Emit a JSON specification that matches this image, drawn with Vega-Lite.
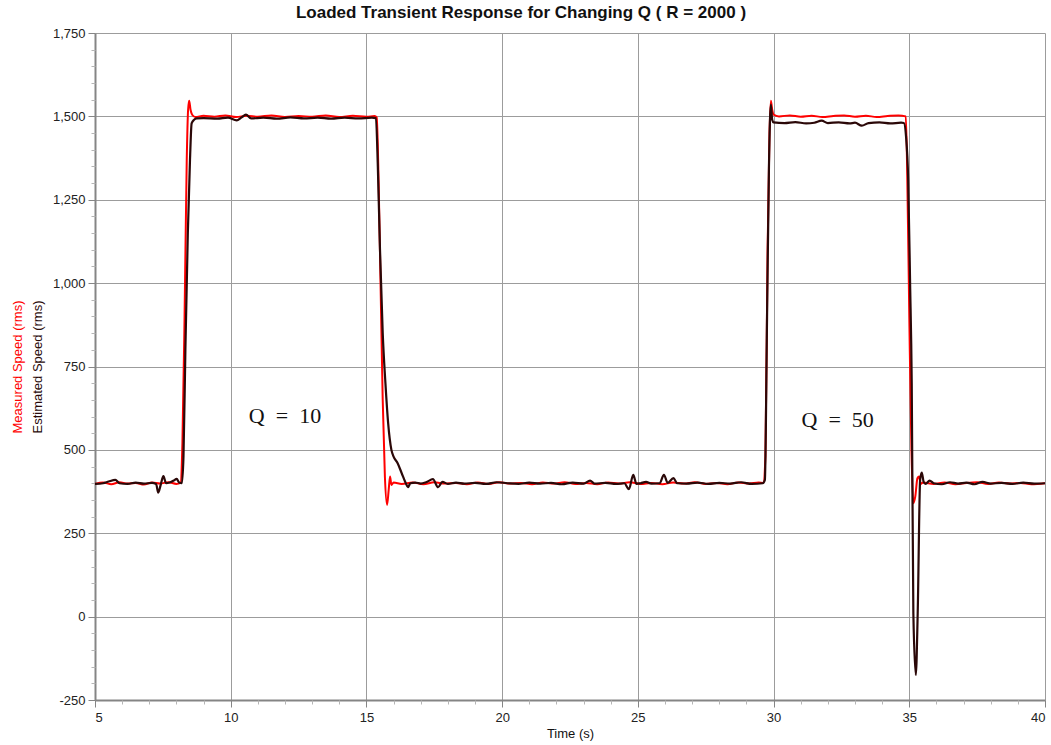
{
  "$schema": "https://vega.github.io/schema/vega-lite/v6.json",
  "width": 950,
  "height": 667,
  "autosize": {"type": "none"},
  "padding": {"left": 95, "top": 33, "right": 6, "bottom": 45},
  "background": "white",
  "config": {
    "view": {"stroke": null},
    "font": "Liberation Sans",
    "axis": {"labelFont": "Liberation Sans", "titleFont": "Liberation Sans", "titleFontWeight": "normal"}
  },
  "title": {
    "text": "Loaded Transient Response for Changing Q ( R = 2000 )",
    "font": "Liberation Sans",
    "fontSize": 17,
    "fontWeight": "bold",
    "color": "#111111",
    "anchor": "middle",
    "frame": "group",
    "dx": -49,
    "offset": 5
  },
  "datasets": {
    "measured": [
      {"t": 5.0, "v": 398}, {"t": 5.3, "v": 402}, {"t": 5.6, "v": 397}, {"t": 5.9, "v": 403},
      {"t": 6.2, "v": 399}, {"t": 6.5, "v": 401}, {"t": 6.8, "v": 396}, {"t": 7.1, "v": 402},
      {"t": 7.4, "v": 399}, {"t": 7.7, "v": 403}, {"t": 8.0, "v": 398}, {"t": 8.15, "v": 401},
      {"t": 8.22, "v": 520}, {"t": 8.3, "v": 900}, {"t": 8.38, "v": 1370}, {"t": 8.43, "v": 1520},
      {"t": 8.47, "v": 1547}, {"t": 8.52, "v": 1520}, {"t": 8.58, "v": 1505}, {"t": 8.7, "v": 1498},
      {"t": 9.0, "v": 1502}, {"t": 9.4, "v": 1499}, {"t": 9.8, "v": 1503}, {"t": 10.2, "v": 1498},
      {"t": 10.6, "v": 1502}, {"t": 11.0, "v": 1499}, {"t": 11.5, "v": 1503}, {"t": 12.0, "v": 1498},
      {"t": 12.5, "v": 1501}, {"t": 13.0, "v": 1499}, {"t": 13.5, "v": 1503}, {"t": 14.0, "v": 1498},
      {"t": 14.5, "v": 1502}, {"t": 15.0, "v": 1499}, {"t": 15.3, "v": 1501}, {"t": 15.38, "v": 1497},
      {"t": 15.45, "v": 1300}, {"t": 15.52, "v": 1000}, {"t": 15.6, "v": 650}, {"t": 15.68, "v": 420},
      {"t": 15.76, "v": 335}, {"t": 15.82, "v": 380}, {"t": 15.87, "v": 420}, {"t": 15.92, "v": 395},
      {"t": 16.0, "v": 402}, {"t": 16.3, "v": 398}, {"t": 16.7, "v": 402}, {"t": 17.1, "v": 397},
      {"t": 17.5, "v": 403}, {"t": 17.9, "v": 399}, {"t": 18.3, "v": 401}, {"t": 18.7, "v": 397},
      {"t": 19.1, "v": 402}, {"t": 19.5, "v": 398}, {"t": 19.9, "v": 403}, {"t": 20.3, "v": 399},
      {"t": 20.7, "v": 401}, {"t": 21.1, "v": 397}, {"t": 21.5, "v": 402}, {"t": 21.9, "v": 399},
      {"t": 22.3, "v": 403}, {"t": 22.7, "v": 398}, {"t": 23.1, "v": 401}, {"t": 23.5, "v": 397},
      {"t": 23.9, "v": 402}, {"t": 24.3, "v": 399}, {"t": 24.7, "v": 403}, {"t": 25.1, "v": 398},
      {"t": 25.5, "v": 401}, {"t": 25.9, "v": 397}, {"t": 26.3, "v": 402}, {"t": 26.7, "v": 399},
      {"t": 27.1, "v": 403}, {"t": 27.5, "v": 398}, {"t": 27.9, "v": 401}, {"t": 28.3, "v": 397},
      {"t": 28.7, "v": 402}, {"t": 29.1, "v": 399}, {"t": 29.45, "v": 402}, {"t": 29.62, "v": 401},
      {"t": 29.7, "v": 480}, {"t": 29.78, "v": 1100}, {"t": 29.85, "v": 1450}, {"t": 29.9, "v": 1547},
      {"t": 29.95, "v": 1520}, {"t": 30.0, "v": 1505}, {"t": 30.2, "v": 1500}, {"t": 30.6, "v": 1503},
      {"t": 31.0, "v": 1499}, {"t": 31.4, "v": 1502}, {"t": 31.8, "v": 1498}, {"t": 32.2, "v": 1501},
      {"t": 32.6, "v": 1503}, {"t": 33.0, "v": 1499}, {"t": 33.4, "v": 1502}, {"t": 33.8, "v": 1498},
      {"t": 34.2, "v": 1501}, {"t": 34.6, "v": 1503}, {"t": 34.87, "v": 1500}, {"t": 34.92, "v": 1350},
      {"t": 35.0, "v": 900}, {"t": 35.08, "v": 500}, {"t": 35.15, "v": 340}, {"t": 35.22, "v": 360},
      {"t": 35.3, "v": 415}, {"t": 35.36, "v": 420}, {"t": 35.42, "v": 398}, {"t": 35.5, "v": 402},
      {"t": 35.9, "v": 398}, {"t": 36.3, "v": 402}, {"t": 36.7, "v": 397}, {"t": 37.1, "v": 401},
      {"t": 37.5, "v": 403}, {"t": 37.9, "v": 398}, {"t": 38.3, "v": 402}, {"t": 38.7, "v": 399},
      {"t": 39.1, "v": 401}, {"t": 39.5, "v": 397}, {"t": 40.0, "v": 400}
    ],
    "estimated": [
      {"t": 5.0, "v": 398}, {"t": 5.3, "v": 400}, {"t": 5.5, "v": 405}, {"t": 5.75, "v": 410},
      {"t": 5.9, "v": 400}, {"t": 6.2, "v": 398}, {"t": 6.5, "v": 402}, {"t": 6.8, "v": 399},
      {"t": 7.1, "v": 401}, {"t": 7.25, "v": 398}, {"t": 7.33, "v": 372}, {"t": 7.42, "v": 395},
      {"t": 7.52, "v": 421}, {"t": 7.62, "v": 400}, {"t": 7.75, "v": 402}, {"t": 7.9, "v": 408},
      {"t": 8.01, "v": 413}, {"t": 8.1, "v": 402}, {"t": 8.2, "v": 400}, {"t": 8.26, "v": 480},
      {"t": 8.33, "v": 800}, {"t": 8.42, "v": 1150}, {"t": 8.5, "v": 1370}, {"t": 8.56, "v": 1479},
      {"t": 8.65, "v": 1490}, {"t": 8.75, "v": 1494}, {"t": 9.0, "v": 1495}, {"t": 9.5, "v": 1493},
      {"t": 9.9, "v": 1496}, {"t": 10.22, "v": 1488}, {"t": 10.4, "v": 1497}, {"t": 10.56, "v": 1505},
      {"t": 10.75, "v": 1494}, {"t": 11.2, "v": 1496}, {"t": 11.7, "v": 1493}, {"t": 12.2, "v": 1497},
      {"t": 12.7, "v": 1494}, {"t": 13.2, "v": 1496}, {"t": 13.7, "v": 1493}, {"t": 14.2, "v": 1496},
      {"t": 14.7, "v": 1494}, {"t": 15.2, "v": 1496}, {"t": 15.35, "v": 1495}, {"t": 15.42, "v": 1350},
      {"t": 15.5, "v": 1100}, {"t": 15.6, "v": 850}, {"t": 15.7, "v": 700}, {"t": 15.8, "v": 580},
      {"t": 15.92, "v": 500}, {"t": 16.0, "v": 480}, {"t": 16.15, "v": 460}, {"t": 16.3, "v": 430},
      {"t": 16.45, "v": 400}, {"t": 16.53, "v": 388}, {"t": 16.62, "v": 400}, {"t": 16.8, "v": 402},
      {"t": 17.0, "v": 399}, {"t": 17.2, "v": 403}, {"t": 17.45, "v": 412}, {"t": 17.64, "v": 388},
      {"t": 17.8, "v": 404}, {"t": 18.0, "v": 398}, {"t": 18.3, "v": 402}, {"t": 18.6, "v": 399},
      {"t": 19.0, "v": 401}, {"t": 19.4, "v": 398}, {"t": 19.8, "v": 403}, {"t": 20.2, "v": 400},
      {"t": 20.6, "v": 398}, {"t": 21.0, "v": 402}, {"t": 21.4, "v": 399}, {"t": 21.8, "v": 401},
      {"t": 22.2, "v": 397}, {"t": 22.6, "v": 402}, {"t": 23.0, "v": 399}, {"t": 23.24, "v": 408},
      {"t": 23.4, "v": 399}, {"t": 23.8, "v": 401}, {"t": 24.2, "v": 398}, {"t": 24.5, "v": 400},
      {"t": 24.67, "v": 382}, {"t": 24.83, "v": 425}, {"t": 24.95, "v": 398}, {"t": 25.1, "v": 400},
      {"t": 25.3, "v": 404}, {"t": 25.5, "v": 399}, {"t": 25.8, "v": 400}, {"t": 25.96, "v": 425},
      {"t": 26.1, "v": 401}, {"t": 26.31, "v": 415}, {"t": 26.45, "v": 400}, {"t": 26.8, "v": 399},
      {"t": 27.2, "v": 402}, {"t": 27.6, "v": 398}, {"t": 28.0, "v": 401}, {"t": 28.4, "v": 399},
      {"t": 28.8, "v": 403}, {"t": 29.2, "v": 398}, {"t": 29.6, "v": 400}, {"t": 29.68, "v": 410},
      {"t": 29.76, "v": 900}, {"t": 29.83, "v": 1350}, {"t": 29.9, "v": 1535}, {"t": 29.95, "v": 1490},
      {"t": 30.0, "v": 1482}, {"t": 30.4, "v": 1480}, {"t": 30.8, "v": 1483}, {"t": 31.2, "v": 1479},
      {"t": 31.5, "v": 1481}, {"t": 31.77, "v": 1487}, {"t": 32.0, "v": 1480}, {"t": 32.4, "v": 1482},
      {"t": 32.8, "v": 1479}, {"t": 33.0, "v": 1481}, {"t": 33.25, "v": 1472}, {"t": 33.5, "v": 1480},
      {"t": 33.9, "v": 1482}, {"t": 34.3, "v": 1479}, {"t": 34.7, "v": 1481}, {"t": 34.8, "v": 1480},
      {"t": 34.88, "v": 1440}, {"t": 34.96, "v": 1309}, {"t": 35.03, "v": 1000}, {"t": 35.09, "v": 700},
      {"t": 35.15, "v": 10}, {"t": 35.24, "v": -175}, {"t": 35.31, "v": 10}, {"t": 35.4, "v": 410},
      {"t": 35.46, "v": 432}, {"t": 35.53, "v": 404}, {"t": 35.6, "v": 398}, {"t": 35.75, "v": 408},
      {"t": 35.9, "v": 400}, {"t": 36.2, "v": 397}, {"t": 36.5, "v": 403}, {"t": 36.8, "v": 399},
      {"t": 37.1, "v": 402}, {"t": 37.4, "v": 397}, {"t": 37.7, "v": 404}, {"t": 38.0, "v": 399},
      {"t": 38.4, "v": 401}, {"t": 38.8, "v": 398}, {"t": 39.2, "v": 402}, {"t": 39.6, "v": 399},
      {"t": 40.0, "v": 400}
    ],
    "notes": [
      {"t": 12.0, "v": 581, "label": "Q\u2002=\u200210"},
      {"t": 32.36, "v": 569, "label": "Q\u2002=\u200250"}
    ]
  },
  "layer": [
    {
      "data": {"name": "measured"},
      "mark": {"type": "line", "color": "#ff0000", "strokeWidth": 2, "interpolate": "monotone"},
      "encoding": {
        "x": {
          "field": "t", "type": "quantitative",
          "scale": {"domain": [5, 40], "nice": false, "zero": false},
          "axis": {
            "orient": "bottom",
            "values": [5, 10, 15, 20, 25, 30, 35, 40],
            "format": "d",
            "grid": true, "gridColor": "#9c9c9c", "gridWidth": 1,
            "domainColor": "#858585", "domainWidth": 2,
            "tickColor": "#858585", "tickSize": 7,
            "labelFontSize": 13, "labelColor": "#222222", "labelPadding": 4,
            "title": "Time (s)", "titleFontSize": 13, "titleColor": "#111111", "titlePadding": 3
          }
        },
        "y": {
          "field": "v", "type": "quantitative",
          "scale": {"domain": [-250, 1750], "nice": false, "zero": false},
          "axis": {
            "orient": "left",
            "values": [-250, 0, 250, 500, 750, 1000, 1250, 1500, 1750],
            "format": ",.0f",
            "labelExpr": "replace(datum.label, '\u2212', '-')",
            "grid": true, "gridColor": "#9c9c9c", "gridWidth": 1,
            "domainColor": "#858585", "domainWidth": 2,
            "tickColor": "#858585", "tickSize": 7,
            "labelFontSize": 13, "labelColor": "#222222", "labelPadding": 3,
            "title": "Measured Speed (rms)", "titleFontSize": 13, "titleColor": "#ff0000",
            "titleAngle": -90, "titleX": -78, "titleY": 333.5,
            "titleAlign": "center", "titleBaseline": "middle"
          }
        }
      }
    },
    {
      "data": {"name": "estimated"},
      "mark": {"type": "line", "color": "#2b0808", "strokeWidth": 2.2, "interpolate": "monotone"},
      "encoding": {
        "x": {
          "field": "t", "type": "quantitative",
          "scale": {"domain": [5, 40], "nice": false, "zero": false},
          "axis": {
            "orient": "bottom",
            "values": [6, 7, 8, 9, 11, 12, 13, 14, 16, 17, 18, 19, 21, 22, 23, 24, 26, 27, 28, 29, 31, 32, 33, 34, 36, 37, 38, 39],
            "labels": false, "grid": false, "domain": false,
            "tickColor": "#b5b5b5", "tickSize": 4, "title": null
          }
        },
        "y": {
          "field": "v", "type": "quantitative",
          "scale": {"domain": [-250, 1750], "nice": false, "zero": false},
          "axis": {
            "orient": "left",
            "values": [-200, -150, -100, -50, 50, 100, 150, 200, 300, 350, 400, 450, 550, 600, 650, 700, 800, 850, 900, 950, 1050, 1100, 1150, 1200, 1300, 1350, 1400, 1450, 1550, 1600, 1650, 1700],
            "labels": false, "grid": false, "domain": false,
            "tickColor": "#b5b5b5", "tickSize": 4,
            "title": "Estimated Speed  (rms)", "titleFontSize": 13, "titleColor": "#2a0a0a",
            "titleAngle": -90, "titleX": -58, "titleY": 333.5,
            "titleAlign": "center", "titleBaseline": "middle"
          }
        }
      }
    },
    {
      "data": {"name": "notes"},
      "mark": {"type": "text", "font": "Liberation Serif", "fontSize": 22, "color": "#111111", "align": "center", "baseline": "alphabetic"},
      "encoding": {
        "x": {"field": "t", "type": "quantitative", "scale": {"domain": [5, 40], "nice": false, "zero": false}, "axis": null},
        "y": {"field": "v", "type": "quantitative", "scale": {"domain": [-250, 1750], "nice": false, "zero": false}, "axis": null},
        "text": {"field": "label"}
      }
    }
  ],
  "resolve": {"axis": {"x": "independent", "y": "independent"}}
}
